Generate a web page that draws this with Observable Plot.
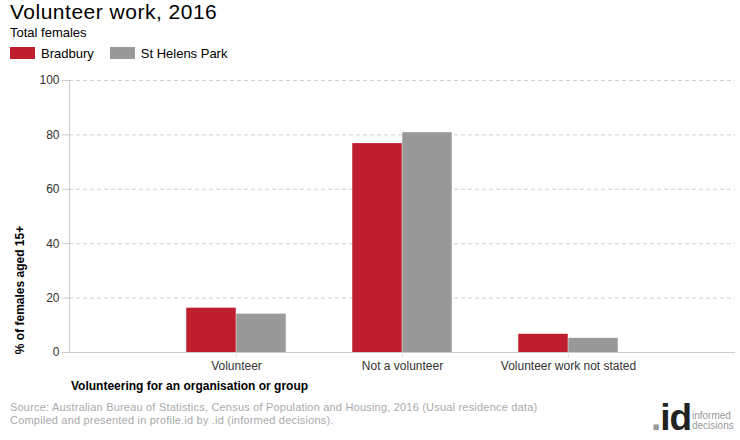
<!DOCTYPE html>
<html><head><meta charset="utf-8">
<script src="https://cdn.jsdelivr.net/npm/d3@7"></script>
<script src="https://cdn.jsdelivr.net/npm/@observablehq/plot@0.6"></script>
<style>
body{margin:0;width:740px;height:440px;position:relative;font-family:"Liberation Sans",Arial,sans-serif;background:#fff;overflow:hidden}
.abs{position:absolute;white-space:nowrap}
#chart{position:absolute;left:0;top:70px}
.sw{display:inline-block;width:25px;height:12px;vertical-align:-1px;margin-right:6px}
.li{display:inline-block;margin-right:16px}
</style></head><body>
<div class="abs" style="left:10px;top:0px;font-size:21px;letter-spacing:0.5px;color:#000">Volunteer work, 2016</div>
<div class="abs" style="left:10px;top:25px;font-size:13px;color:#000">Total females</div>
<div class="abs" id="legend" style="left:10px;top:46px;font-size:13px;color:#000"></div>
<div id="chart"></div>
<div class="abs" style="left:20px;top:290px;transform:translate(-50%,-50%) rotate(-90deg);font-size:12px;font-weight:bold;color:#000">% of females aged 15+</div>
<div class="abs" style="left:71px;top:379px;font-size:12px;font-weight:bold;color:#000">Volunteering for an organisation or group</div>
<div class="abs" style="left:10px;top:401px;font-size:11px;line-height:13px;letter-spacing:0.2px;color:#aaa">Source: Australian Bureau of Statistics, Census of Population and Housing, 2016 (Usual residence data)<br>Compiled and presented in profile.id by .id (informed decisions).</div>
<div class="abs" style="left:651px;top:399px;font-size:37px;line-height:37px;font-weight:bold;color:#222;letter-spacing:-1px"><span style="color:#999">.</span>id</div>
<div class="abs" style="left:692px;top:411px;font-size:10px;line-height:10px;color:#999">informed<br>decisions</div>
<script>
const categories = ["Volunteer", "Not a volunteer", "Volunteer work not stated"];
const seriesNames = ["Bradbury", "St Helens Park"];
const bradbury = [16.3, 76.8, 6.7];
const stHelensPark = [14.1, 80.8, 5.2];
const yTicks = [0, 20, 40, 60, 80, 100];
const colors = ["#be1e2d", "#999999"];

const rows = [];
categories.forEach((c, i) => {
  rows.push({category: c, series: seriesNames[0], value: bradbury[i]});
  rows.push({category: c, series: seriesNames[1], value: stHelensPark[i]});
});

// legend
const leg = document.getElementById("legend");
seriesNames.forEach((s, i) => {
  const d = document.createElement("span");
  d.className = "li";
  d.innerHTML = `<span class="sw" style="background:${colors[i]}"></span>${s}`;
  leg.appendChild(d);
});

const W = 740, ML = 69, MR = 5;
const step = (W - ML - MR) / (categories.length + 1);
const barW = 50;
const half = step / 2;

const plot = Plot.plot({
  width: W,
  height: 330,
  marginTop: 10,
  marginLeft: ML,
  marginRight: MR,
  marginBottom: 48,
  style: {fontSize: "12px", fontFamily: "Liberation Sans, Arial, sans-serif", background: "#fff"},
  x: {domain: categories, paddingOuter: 0.5, paddingInner: 0, label: null},
  y: {domain: [0, 100], label: null},
  marks: [
    Plot.gridY(yTicks.filter(t => t > 0), {stroke: "#d0d0d0", strokeOpacity: 1, strokeDasharray: "4,3"}),
    Plot.barY(rows.filter(r => r.series === seriesNames[0]), {x: "category", y: "value", fill: colors[0], insetLeft: half - barW, insetRight: half}),
    Plot.barY(rows.filter(r => r.series === seriesNames[1]), {x: "category", y: "value", fill: colors[1], insetLeft: half, insetRight: half - barW}),
    Plot.ruleY([0], {stroke: "#ccc"}),
    Plot.frame({anchor: "left", stroke: "#ccc"}),
    Plot.axisY({ticks: yTicks, tickSize: 7, tickPadding: 3, stroke: "#ccc", fill: "#333", label: null}),
    Plot.axisX({tickSize: 5, tickPadding: 4, stroke: "#ccc", fill: "#333", strokeDasharray: "1,1", label: null})
  ]
});
document.getElementById("chart").appendChild(plot);
</script>
</body></html>
